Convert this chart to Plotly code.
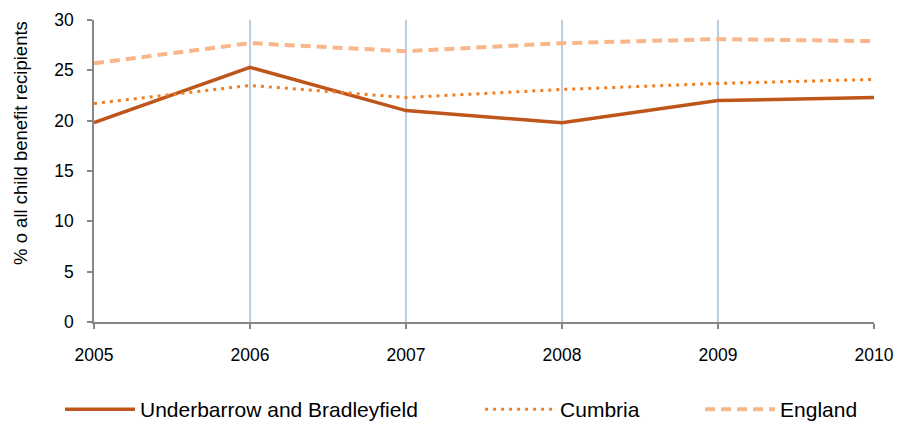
import plotly.graph_objects as go

years = [2005, 2006, 2007, 2008, 2009, 2010]
underbarrow = [19.8, 25.3, 21.0, 19.8, 22.0, 22.3]
cumbria = [21.7, 23.5, 22.3, 23.1, 23.7, 24.1]
england = [25.7, 27.7, 26.9, 27.7, 28.1, 27.9]
y_ticks = [0, 5, 10, 15, 20, 25, 30]
y_title = "% o all child benefit recipients"

FONT = "Liberation Sans, Arial, sans-serif"

fig = go.Figure()
fig.add_trace(go.Scatter(x=years, y=underbarrow, mode="lines",
                         name="Underbarrow and Bradleyfield", legend="legend",
                         line=dict(color="#BE561C", width=3.5)))
fig.add_trace(go.Scatter(x=years, y=cumbria, mode="lines", name="Cumbria",
                         legend="legend2",
                         line=dict(color="#F07F22", width=3, dash="3px,5px")))
fig.add_trace(go.Scatter(x=years, y=england, mode="lines", name="England",
                         legend="legend3",
                         line=dict(color="#F8B68A", width=4, dash="10px,6px")))

leg_common = dict(orientation="h", xanchor="left", y=-0.29, yanchor="middle",
                  font=dict(size=21, family=FONT), itemwidth=70,
                  bgcolor="rgba(0,0,0,0)")

fig.update_layout(
    width=899, height=422,
    margin=dict(l=94, r=25, t=20, b=100, autoexpand=False),
    paper_bgcolor="white", plot_bgcolor="white",
    font=dict(family=FONT, size=16, color="#000000"),
    showlegend=True,
    legend=dict(x=-0.0436, **leg_common),
    legend2=dict(x=0.495, **leg_common),
    legend3=dict(x=0.777, **leg_common),
    annotations=[dict(text=y_title, textangle=-90, xref="paper", yref="paper",
                      x=-0.0936, y=0.593, xanchor="center", yanchor="middle",
                      showarrow=False, font=dict(size=18.5, family=FONT))],
)
fig.update_xaxes(
    range=[2005, 2010], tickvals=years, ticktext=[str(y) for y in years],
    showline=True, linecolor="#868686", linewidth=1.5,
    ticks="outside", ticklen=5, tickcolor="#868686", tickwidth=1.5,
    showgrid=True, gridcolor="#B9CDE5", gridwidth=2,
    zeroline=False, ticklabelstandoff=11,
    tickfont=dict(size=17.5, family=FONT),
)
fig.update_yaxes(
    range=[0, 30], tickvals=y_ticks,
    showline=True, linecolor="#868686", linewidth=1.5,
    ticks="outside", ticklen=5, tickcolor="#868686", tickwidth=1.5,
    showgrid=False, zeroline=False, ticklabelstandoff=10,
    tickfont=dict(size=17.5, family=FONT),
)

fig.write_html("out.html", config={"displayModeBar": False},
               post_script="document.body.style.margin='0';document.body.style.overflow='hidden';")
